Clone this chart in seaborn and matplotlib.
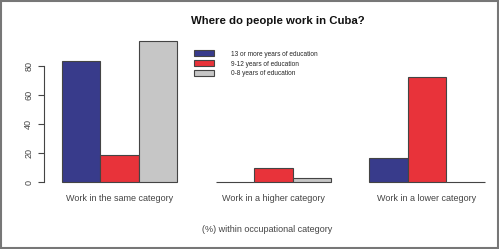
import matplotlib
matplotlib.use("Agg")
import matplotlib.pyplot as plt
import seaborn as sns
import pandas as pd
from matplotlib.patches import Rectangle

categories = ["Work in the same category", "Work in a higher category", "Work in a lower category"]
series = ["13 or more years of education", "9-12 years of education", "0-8 years of education"]
vals_13plus = [83, 0, 17]
vals_9_12 = [19, 10, 72]
vals_0_8 = [97, 3, 0]
colors = ["#383b8b", "#e8333a", "#c6c6c6"]

rows = []
for s, vals in zip(series, [vals_13plus, vals_9_12, vals_0_8]):
    for c, v in zip(categories, vals):
        rows.append({"category": c, "series": s, "value": v})
df = pd.DataFrame(rows)

sns.set_style("white")
plt.rcParams["font.family"] = ["Liberation Sans", "DejaVu Sans"]

fig = plt.figure(figsize=(4.99, 2.49), dpi=100)
ax = fig.add_axes([44/499, 0.250, (490-44)/499, 0.603])

sns.barplot(data=df, x="category", y="value", hue="series", order=categories,
            hue_order=series, palette=colors, saturation=1, width=0.75,
            edgecolor="#444444", linewidth=0.8, ax=ax, legend=True)

ax.set_xlim(-0.492, 2.41)
ax.set_ylim(-3, 100)
for sp in ["top", "right", "bottom"]:
    ax.spines[sp].set_visible(False)
ax.spines["left"].set_bounds(0, 80)
ax.spines["left"].set_color("#444444")
ax.spines["left"].set_linewidth(0.8)
ax.set_yticks([0, 20, 40, 60, 80])
ax.set_yticklabels(["0", "20", "40", "60", "80"], rotation=90, va="center", fontsize=6.5, color="#444444")
ax.tick_params(axis="y", left=True, length=4.3, width=0.8, color="#444444", pad=3.5)
ax.tick_params(axis="x", bottom=False, labelsize=6.5, labelcolor="#444444", pad=1.5)
ax.set_ylabel("")
ax.set_xlabel("(%) within occupational category", fontsize=6.5, color="#444444", labelpad=16)

fig.text(0.556, 1 - 20.7/249, "Where do people work in Cuba?", ha="center", va="center",
         fontsize=8.2, fontweight="bold", color="#111111")

handles, labels = ax.get_legend_handles_labels()
ax.legend(handles, labels, loc="upper left", bbox_to_anchor=((195-44)/446 - 0.007, 0.925), frameon=False,
          fontsize=4.7, handlelength=3.0, handleheight=1.0, labelspacing=0.42,
          handletextpad=2.6, borderaxespad=0, title=None)

fig.patches.append(Rectangle((0.002, 0.004), 0.996, 0.992, transform=fig.transFigure,
                             fill=False, edgecolor="#777777", linewidth=1.5))

fig.savefig("out.png", dpi=100)
